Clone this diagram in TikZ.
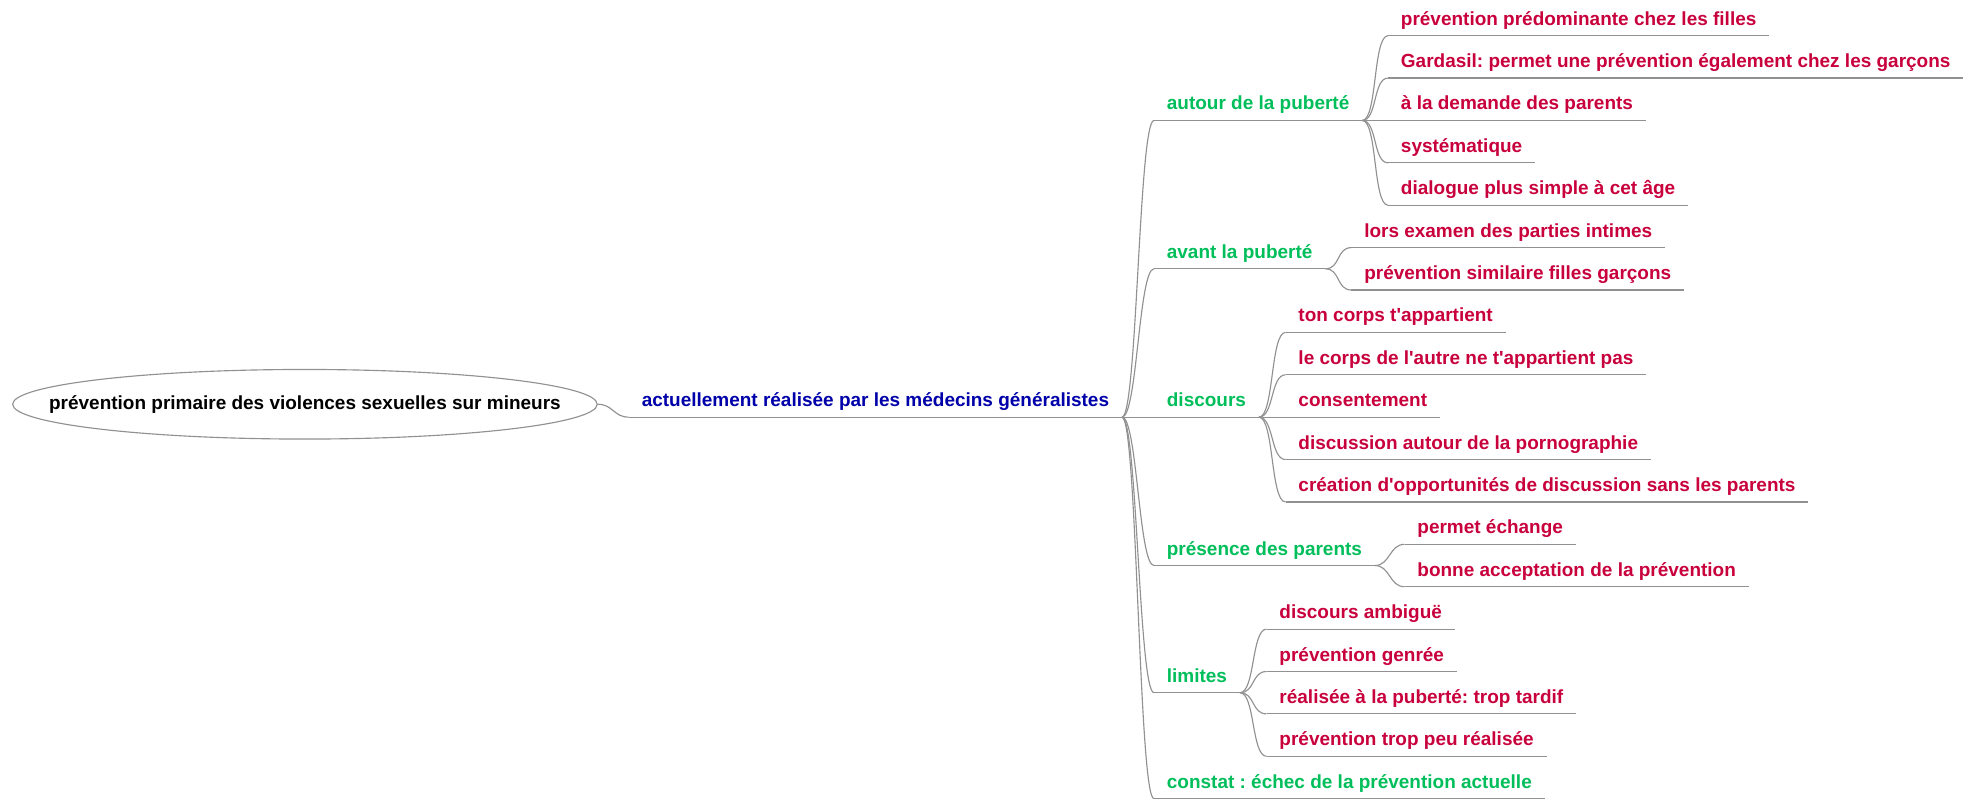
\documentclass[tikz,border=0pt]{standalone}
\usepackage{fontspec}
\newfontfamily\mmfont{Liberation Sans}
\usetikzlibrary{shapes.geometric}
\frenchspacing

\definecolor{mmblue}{RGB}{0,0,170}
\definecolor{mmgreen}{RGB}{0,190,90}
\definecolor{mmred}{RGB}{200,0,60}
\definecolor{mmline}{RGB}{145,145,145}

\tikzset{
  link/.style={draw=mmline, line width=0.9pt},
  fork/.style={to path={.. controls +(12,0) and +(-12,0) .. (\tikztotarget)}},
  topic/.style={anchor=west, inner xsep=10pt, inner ysep=4.9pt, text height=11pt, text depth=3.2pt,
    font=\mmfont\fontsize{15}{18}\selectfont\bfseries,
    append after command={(\tikzlastnode.south west) edge[link] (\tikzlastnode.south east)}},
  main/.style={topic, text=mmblue},
  sub/.style={topic, text=mmgreen},
  leaf/.style={topic, text=mmred},
  rootnode/.style={ellipse, draw=mmline, line width=0.9pt, minimum width=462pt, minimum height=55pt,
    inner xsep=-50pt, inner ysep=0pt, font=\mmfont\fontsize{15}{18}\selectfont\bfseries},
}

\begin{document}
\begin{tikzpicture}[x=1pt,y=-1pt]
                \useasboundingbox (0,0) rectangle (1568,631) ;
                \node[rootnode] (root) at (241,319.5) {prévention primaire des violences sexuelles sur mineurs} ;
                \node[main] (actuel) at (497,317.5) {actuellement réalisée par les médecins généralistes} ;
                \draw[link] (root.east) to[fork] (actuel.south west) ;
                % second level
                \node[sub] (autour) at (912,83) {autour de la puberté} ;
                \node[sub] (avant) at (912,200.25) {avant la puberté} ;
                \node[sub] (discours) at (912,317.5) {discours} ;
                \node[sub] (presence) at (912,434.75) {présence des parents} ;
                \node[sub] (limites) at (912,535.25) {limites} ;
                \node[sub] (constat) at (912,619) {constat : échec de la prévention actuelle} ;
                \draw[link] (actuel.south east) to[fork] (autour.south west) ;
                \draw[link] (actuel.south east) to[fork] (avant.south west) ;
                \draw[link] (actuel.south east) to[fork] (discours.south west) ;
                \draw[link] (actuel.south east) to[fork] (presence.south west) ;
                \draw[link] (actuel.south east) to[fork] (limites.south west) ;
                \draw[link] (actuel.south east) to[fork] (constat.south west) ;
                % autour de la puberte
                \node[leaf] (au1) at (1097,16) {prévention prédominante chez les filles} ;
                \node[leaf] (au2) at (1097,49.5) {Gardasil: permet une prévention également chez les garçons} ;
                \node[leaf] (au3) at (1097,83) {à la demande des parents} ;
                \node[leaf] (au4) at (1097,116.5) {systématique} ;
                \node[leaf] (au5) at (1097,150) {dialogue plus simple à cet âge} ;
                \draw[link] (autour.south east) to[fork] (au1.south west) ;
                \draw[link] (autour.south east) to[fork] (au2.south west) ;
                \draw[link] (autour.south east) to[fork] (au3.south west) ;
                \draw[link] (autour.south east) to[fork] (au4.south west) ;
                \draw[link] (autour.south east) to[fork] (au5.south west) ;
                % avant la puberte
                \node[leaf] (av1) at (1068,183.5) {lors examen des parties intimes} ;
                \node[leaf] (av2) at (1068,217) {prévention similaire filles garçons} ;
                \draw[link] (avant.south east) to[fork] (av1.south west) ;
                \draw[link] (avant.south east) to[fork] (av2.south west) ;
                % discours
                \node[leaf] (di1) at (1016,250.5) {ton corps t'appartient} ;
                \node[leaf] (di2) at (1016,284) {le corps de l'autre ne t'appartient pas} ;
                \node[leaf] (di3) at (1016,317.5) {consentement} ;
                \node[leaf] (di4) at (1016,351) {discussion autour de la pornographie} ;
                \node[leaf] (di5) at (1016,384.5) {création d'opportunités de discussion sans les parents} ;
                \draw[link] (discours.south east) to[fork] (di1.south west) ;
                \draw[link] (discours.south east) to[fork] (di2.south west) ;
                \draw[link] (discours.south east) to[fork] (di3.south west) ;
                \draw[link] (discours.south east) to[fork] (di4.south west) ;
                \draw[link] (discours.south east) to[fork] (di5.south west) ;
                % presence des parents
                \node[leaf] (pr1) at (1110,418) {permet échange} ;
                \node[leaf] (pr2) at (1110,451.5) {bonne acceptation de la prévention} ;
                \draw[link] (presence.south east) to[fork] (pr1.south west) ;
                \draw[link] (presence.south east) to[fork] (pr2.south west) ;
                % limites
                \node[leaf] (li1) at (1001,485) {discours ambiguë} ;
                \node[leaf] (li2) at (1001,518.5) {prévention genrée} ;
                \node[leaf] (li3) at (1001,552) {réalisée à la puberté: trop tardif} ;
                \node[leaf] (li4) at (1001,585.5) {prévention trop peu réalisée} ;
                \draw[link] (limites.south east) to[fork] (li1.south west) ;
                \draw[link] (limites.south east) to[fork] (li2.south west) ;
                \draw[link] (limites.south east) to[fork] (li3.south west) ;
                \draw[link] (limites.south east) to[fork] (li4.south west) ;
\end{tikzpicture}
\end{document}
